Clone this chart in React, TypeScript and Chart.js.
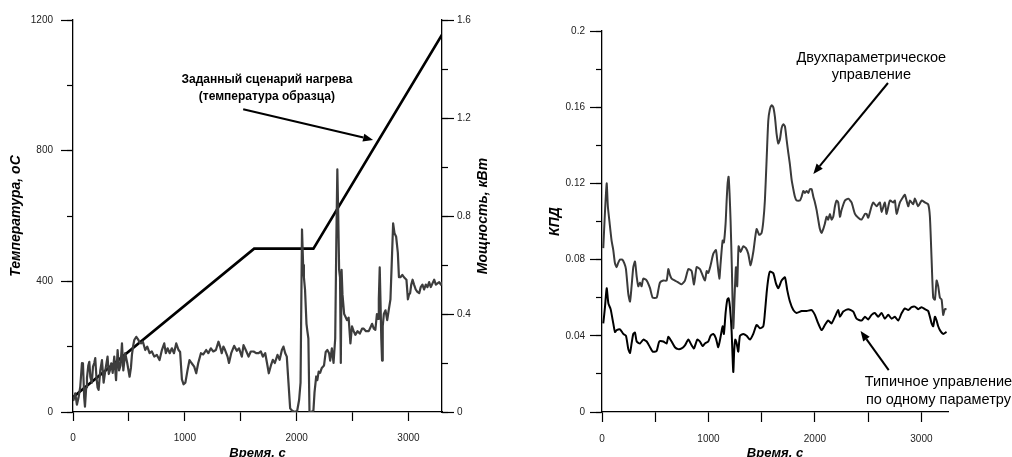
import React, { useEffect, useRef } from "react";
import { Chart, registerables } from "chart.js";

Chart.register(...registerables);

const FONT = '"Liberation Sans", Arial, Helvetica, sans-serif';

// Target heating program (sample temperature), °C
const programTime = [0, 1620, 2150, 3300];
const programTemp = [45, 500, 500, 1155];

// Heater power, kW
const powerTime = [
  0, 5, 20, 35, 50, 65, 80, 89, 100, 107, 118, 125, 137, 146, 155, 168, 179, 190, 199, 210,
  220, 229, 244, 259, 274, 289, 300, 309, 320, 330, 342, 355, 369, 385, 399, 412, 425, 438, 450, 467,
  485, 506, 518, 527, 538, 548, 566, 585, 596, 608, 625, 646, 664, 685, 705, 727, 750, 774, 795, 816,
  830, 846, 865, 884, 903, 923, 944, 958, 974, 989, 1005, 1024, 1042, 1060, 1084, 1102, 1120, 1144, 1165, 1191,
  1210, 1233, 1255, 1278, 1301, 1315, 1330, 1345, 1360, 1382, 1395, 1415, 1441, 1465, 1485, 1510, 1525, 1545, 1570, 1590,
  1615, 1638, 1660, 1680, 1698, 1719, 1735, 1751, 1770, 1787, 1805, 1829, 1848, 1868, 1882, 1898, 1912, 1927, 1942, 1960,
  1987, 2005, 2022, 2035, 2048, 2058, 2065, 2075, 2088, 2096, 2105, 2115, 2130, 2150, 2160, 2175, 2185, 2197, 2210, 2225,
  2245, 2260, 2275, 2290, 2300, 2315, 2330, 2345, 2355, 2364, 2372, 2380, 2388, 2395, 2402, 2410, 2425, 2436, 2450, 2465,
  2481, 2495, 2510, 2525, 2545, 2565, 2585, 2600, 2620, 2645, 2660, 2675, 2690, 2704, 2718, 2728, 2735, 2743, 2750, 2757,
  2764, 2770, 2780, 2795, 2810, 2825, 2839, 2850, 2863, 2875, 2890, 2905, 2915, 2928, 2945, 2960, 2982, 2995, 3005, 3015,
  3025, 3037, 3050, 3065, 3080, 3096, 3110, 3125, 3140, 3155, 3170, 3185, 3200, 3215, 3230, 3245, 3260, 3275, 3290, 3304,
];
const powerKw = [
  0.05, 0.049, 0.076, 0.03, 0.06, 0.103, 0.2, 0.199, 0.06, 0.022, 0.1, 0.139, 0.19, 0.205, 0.143, 0.12, 0.185, 0.2, 0.22, 0.139,
  0.1, 0.09, 0.17, 0.212, 0.12, 0.17, 0.2, 0.226, 0.155, 0.17, 0.199, 0.16, 0.226, 0.13, 0.253, 0.17, 0.19, 0.28, 0.17, 0.24,
  0.2, 0.144, 0.18, 0.233, 0.27, 0.294, 0.307, 0.294, 0.283, 0.28, 0.287, 0.253, 0.267, 0.24, 0.247, 0.226, 0.233, 0.212, 0.253, 0.28,
  0.24, 0.26, 0.24, 0.26, 0.24, 0.28, 0.253, 0.245, 0.133, 0.113, 0.12, 0.17, 0.212, 0.2, 0.185, 0.158, 0.2, 0.24, 0.235, 0.253,
  0.24, 0.26, 0.247, 0.253, 0.287, 0.267, 0.24, 0.267, 0.253, 0.226, 0.2, 0.24, 0.27, 0.25, 0.26, 0.226, 0.273, 0.253, 0.226, 0.247,
  0.247, 0.24, 0.24, 0.247, 0.226, 0.24, 0.2, 0.158, 0.19, 0.213, 0.2, 0.233, 0.213, 0.253, 0.267, 0.24, 0.226, 0.12, 0.015, 0.005,
  0.0, 0.005, 0.049, 0.12, 0.745, 0.6, 0.55, 0.5, 0.36, 0.33, 0.3, 0.0, 0.0, 0.005, 0.08, 0.145, 0.13, 0.165, 0.16, 0.18,
  0.19, 0.245, 0.253, 0.24, 0.21, 0.26, 0.2, 0.3, 0.7, 0.99, 0.8, 0.58, 0.55, 0.2, 0.58, 0.48, 0.4, 0.39, 0.375, 0.385,
  0.28, 0.35, 0.33, 0.315, 0.33, 0.32, 0.34, 0.34, 0.33, 0.33, 0.345, 0.36, 0.34, 0.335, 0.4, 0.38, 0.46, 0.59, 0.45, 0.3,
  0.21, 0.35, 0.4, 0.415, 0.375, 0.42, 0.46, 0.6, 0.77, 0.73, 0.715, 0.65, 0.55, 0.55, 0.56, 0.55, 0.54, 0.46, 0.48, 0.485,
  0.52, 0.54, 0.52, 0.5, 0.49, 0.485, 0.51, 0.52, 0.5, 0.52, 0.51, 0.53, 0.51, 0.525, 0.54, 0.52, 0.525, 0.53, 0.52, 0.53,
];

// Efficiency with two-parameter control
const twoParamTime = [
  12, 28, 44, 55, 70, 90, 106, 122, 138, 150, 169, 190, 210, 225, 247, 263, 278, 294, 310, 326,
  341, 357, 372, 388, 420, 451, 476, 513, 529, 545, 576, 607, 623, 638, 654, 685, 716, 748, 779, 811,
  842, 864, 889, 920, 936, 967, 983, 998, 1020, 1045, 1070, 1083, 1102, 1114, 1133, 1145, 1161, 1170, 1180, 1189,
  1198, 1208, 1220, 1233, 1245, 1258, 1270, 1283, 1302, 1327, 1352, 1374, 1396, 1421, 1452, 1477, 1499, 1515, 1530, 1546,
  1562, 1577, 1593, 1609, 1624, 1640, 1656, 1671, 1687, 1703, 1718, 1734, 1750, 1765, 1781, 1797, 1812, 1828, 1859, 1875,
  1891, 1906, 1922, 1938, 1953, 1969, 1985, 2000, 2016, 2031, 2047, 2063, 2078, 2094, 2110, 2125, 2141, 2156, 2172, 2188,
  2203, 2219, 2235, 2250, 2282, 2313, 2344, 2376, 2407, 2438, 2470, 2485, 2501, 2532, 2548, 2579, 2610, 2626, 2657, 2673,
  2704, 2735, 2751, 2767, 2798, 2830, 2845, 2877, 2892, 2923, 2939, 2970, 3002, 3033, 3064, 3080, 3096, 3111, 3127, 3143,
  3158, 3174, 3190, 3205, 3220, 3236,
];
const twoParamEff = [
  0.086, 0.105, 0.12, 0.108, 0.1, 0.09, 0.085, 0.078, 0.076, 0.078, 0.08, 0.08, 0.078, 0.075, 0.062, 0.058, 0.066, 0.076, 0.079, 0.071,
  0.066, 0.068, 0.066, 0.07, 0.069, 0.065, 0.06, 0.06, 0.064, 0.068, 0.069, 0.069, 0.075, 0.072, 0.07, 0.069, 0.068, 0.067, 0.069, 0.075,
  0.074, 0.067, 0.076, 0.075, 0.073, 0.069, 0.074, 0.073, 0.077, 0.083, 0.085, 0.079, 0.07, 0.078, 0.09, 0.089, 0.099, 0.11, 0.12, 0.1235,
  0.115, 0.1, 0.075, 0.044, 0.06, 0.076, 0.066, 0.087, 0.084, 0.087, 0.086, 0.083, 0.077, 0.084, 0.096, 0.093, 0.094, 0.1, 0.111, 0.132,
  0.153, 0.159, 0.161, 0.16, 0.155, 0.146, 0.141, 0.143, 0.149, 0.151, 0.15, 0.143, 0.136, 0.13, 0.122, 0.117, 0.113, 0.111, 0.111, 0.113,
  0.116, 0.115, 0.116, 0.115, 0.117, 0.117, 0.113, 0.11, 0.106, 0.101, 0.096, 0.094, 0.096, 0.099, 0.1025, 0.101, 0.104, 0.101, 0.1025, 0.108,
  0.111, 0.11, 0.1025, 0.106, 0.111, 0.112, 0.11, 0.104, 0.102, 0.101, 0.104, 0.104, 0.102, 0.108, 0.11, 0.108, 0.11, 0.105, 0.11, 0.104,
  0.111, 0.11, 0.111, 0.104, 0.11, 0.113, 0.114, 0.108, 0.111, 0.109, 0.112, 0.108, 0.111, 0.11, 0.109, 0.1025, 0.08, 0.06, 0.059, 0.069,
  0.066, 0.06, 0.059, 0.051, 0.054, 0.054,
];

// Efficiency with conventional single-parameter control
const oneParamTime = [
  12, 28, 44, 60, 81, 106, 122, 138, 169, 200, 225, 247, 263, 278, 294, 310, 326, 357, 388, 420,
  451, 476, 513, 538, 576, 607, 623, 654, 685, 716, 748, 779, 811, 842, 864, 895, 920, 945, 967, 998,
  1020, 1045, 1070, 1092, 1114, 1133, 1145, 1161, 1177, 1189, 1202, 1217, 1233, 1242, 1252, 1265, 1280, 1296, 1327, 1358,
  1390, 1421, 1452, 1483, 1515, 1530, 1546, 1562, 1577, 1609, 1634, 1656, 1687, 1718, 1740, 1765, 1797, 1828, 1875, 1922,
  1969, 2000, 2031, 2063, 2094, 2125, 2156, 2188, 2219, 2235, 2266, 2313, 2360, 2391, 2438, 2470, 2501, 2532, 2563, 2594,
  2626, 2657, 2689, 2720, 2751, 2783, 2814, 2845, 2877, 2908, 2939, 2970, 3002, 3033, 3064, 3096, 3111, 3127, 3143, 3158,
  3174, 3205, 3236,
];
const oneParamEff = [
  0.0465, 0.055, 0.065, 0.057, 0.054, 0.0465, 0.042, 0.043, 0.0434, 0.041, 0.04, 0.033, 0.031, 0.036, 0.041, 0.0417, 0.037, 0.036, 0.038, 0.037,
  0.034, 0.0317, 0.032, 0.037, 0.037, 0.036, 0.0395, 0.037, 0.034, 0.033, 0.0334, 0.035, 0.038, 0.035, 0.0334, 0.038, 0.037, 0.0346, 0.036, 0.037,
  0.04, 0.041, 0.0387, 0.034, 0.0395, 0.045, 0.041, 0.052, 0.059, 0.0597, 0.055, 0.043, 0.021, 0.0325, 0.038, 0.036, 0.0317, 0.04, 0.041, 0.04,
  0.038, 0.041, 0.0457, 0.044, 0.045, 0.052, 0.0623, 0.07, 0.0737, 0.0728, 0.0675, 0.065, 0.069, 0.0707, 0.064, 0.058, 0.0535, 0.052, 0.053, 0.053,
  0.0535, 0.051, 0.0465, 0.043, 0.0457, 0.048, 0.0465, 0.05, 0.0535, 0.05, 0.0527, 0.054, 0.0527, 0.049, 0.048, 0.05, 0.0486, 0.051, 0.052, 0.05,
  0.052, 0.049, 0.051, 0.049, 0.05, 0.048, 0.0518, 0.0544, 0.0535, 0.055, 0.0553, 0.054, 0.055, 0.054, 0.053, 0.0465, 0.045, 0.05, 0.048, 0.045,
  0.043, 0.041, 0.042,
];

// Axis ranges and tick labels
const timeTickLabels = [0, 1000, 2000, 3000];
const timeTickStep = 500;
const leftTimeMax = 3300;
const rightTimeMax = 3250;
const tempTickLabels = [0, 400, 800, 1200];
const tempMinorStep = 200;
const powerTickLabels = [0, 0.4, 0.8, 1.2, 1.6];
const powerMinorStep = 0.2;
const effTickLabels = [0, 0.04, 0.08, 0.12, 0.16, 0.2];
const effMinorStep = 0.02;

const toPoints = (xs: number[], ys: number[]) => xs.map((x, i) => ({ x, y: ys[i] }));

// Tick positions from min up to max in fixed steps (rounded to avoid float drift)
function stepTicks(min: number, max: number, step: number) {
  const out: { value: number }[] = [];
  const n = Math.floor((max - min) / step + 1e-9);
  for (let i = 0; i <= n; i++) out.push({ value: Number((min + i * step).toFixed(6)) });
  return out;
}

const tickFont = { family: FONT, size: 10 };
const tickColor = "#222";
const axisColor = "#000";

function timeAxis(max: number, tickLength: number) {
  return {
    type: "linear",
    position: "bottom",
    min: 0,
    max,
    afterBuildTicks: (s: any) => {
      s.ticks = stepTicks(0, max, timeTickStep);
    },
    ticks: {
      autoSkip: false,
      maxRotation: 0,
      padding: 11,
      font: tickFont,
      color: tickColor,
      callback: (v: number) => (timeTickLabels.includes(v) ? String(v) : ""),
    },
    grid: { drawOnChartArea: false, tickLength, tickColor: axisColor, tickWidth: 1.2 },
    border: { color: axisColor, width: 1.3 },
    afterFit: (s: any) => {
      s.height = 45;
    },
  };
}

function valueAxis(
  position: "left" | "right",
  labels: number[],
  width: number,
  padding: number,
  digits: number
) {
  const min = labels[0];
  const max = labels[labels.length - 1];
  return {
    type: "linear",
    position,
    weight: 1,
    min,
    max,
    afterBuildTicks: (s: any) => {
      s.ticks = labels.map((value) => ({ value }));
    },
    ticks: {
      autoSkip: false,
      padding,
      font: tickFont,
      color: tickColor,
      callback: (v: number) => String(Number(v.toFixed(digits))),
    },
    grid: { drawOnChartArea: false, tickLength: 12, tickColor: axisColor, tickWidth: 1.2 },
    border: { color: axisColor, width: 1.3 },
    afterFit: (s: any) => {
      s.width = width;
    },
  };
}

function minorAxis(position: "left" | "right", labels: number[], step: number) {
  const min = labels[0];
  const max = labels[labels.length - 1];
  return {
    type: "linear",
    position,
    weight: 0,
    min,
    max,
    afterBuildTicks: (s: any) => {
      s.ticks = stepTicks(min, max, step);
    },
    ticks: { display: false, autoSkip: false },
    grid: { drawOnChartArea: false, tickLength: 6, tickColor: axisColor, tickWidth: 1.2 },
    border: { display: false },
    afterFit: (s: any) => {
      s.width = 0;
    },
  };
}

function drawArrow(ctx: CanvasRenderingContext2D, x1: number, y1: number, x2: number, y2: number) {
  const head = 10;
  const half = 4;
  const a = Math.atan2(y2 - y1, x2 - x1);
  const bx = x2 - head * Math.cos(a);
  const by = y2 - head * Math.sin(a);
  ctx.save();
  ctx.strokeStyle = "#000";
  ctx.fillStyle = "#000";
  ctx.lineWidth = 2;
  ctx.beginPath();
  ctx.moveTo(x1, y1);
  ctx.lineTo(bx, by);
  ctx.stroke();
  ctx.beginPath();
  ctx.moveTo(x2, y2);
  ctx.lineTo(bx + half * Math.sin(a), by - half * Math.cos(a));
  ctx.lineTo(bx - half * Math.sin(a), by + half * Math.cos(a));
  ctx.closePath();
  ctx.fill();
  ctx.restore();
}

function drawText(
  ctx: CanvasRenderingContext2D,
  text: string,
  x: number,
  y: number,
  font: string,
  rotate = false,
  baseline: CanvasTextBaseline = "middle"
) {
  ctx.save();
  ctx.fillStyle = "#000";
  ctx.font = font;
  ctx.textAlign = "center";
  ctx.textBaseline = baseline;
  ctx.translate(x, y);
  if (rotate) ctx.rotate(-Math.PI / 2);
  ctx.fillText(text, 0, 0);
  ctx.restore();
}

const titleFont = `italic bold 14px ${FONT}`;
const xTitleFont = `italic bold 13px ${FONT}`;

const leftOverlay = {
  id: "leftOverlay",
  afterDraw(chart: any) {
    const { ctx, chartArea, scales } = chart;
    const x = scales.x;
    const yT = scales.yTemp;
    const cy = (chartArea.top + chartArea.bottom) / 2;
    const cx = (chartArea.left + chartArea.right) / 2;
    drawText(ctx, "Температура, оС", chartArea.left - 57, cy, titleFont, true);
    drawText(ctx, "Мощность, кВт", chartArea.right + 41, cy, titleFont, true);
    drawText(ctx, "Время, с", cx, chart.height, xTitleFont, false, "alphabetic");
    const bold = `bold 12px ${FONT}`;
    drawText(ctx, "Заданный сценарий нагрева", x.getPixelForValue(1734), yT.getPixelForValue(1016), bold);
    drawText(ctx, "(температура образца)", x.getPixelForValue(1734), yT.getPixelForValue(964), bold);
    drawArrow(
      ctx,
      x.getPixelForValue(1522),
      yT.getPixelForValue(927),
      x.getPixelForValue(2684),
      yT.getPixelForValue(833)
    );
  },
};

const rightOverlay = {
  id: "rightOverlay",
  afterDraw(chart: any) {
    const { ctx, chartArea, scales } = chart;
    const x = scales.x;
    const y = scales.yEff;
    const cy = (chartArea.top + chartArea.bottom) / 2;
    const cx = (chartArea.left + chartArea.right) / 2;
    drawText(ctx, "КПД", chartArea.left - 47, cy, titleFont, true);
    drawText(ctx, "Время, с", cx, chart.height, xTitleFont, false, "alphabetic");
    const normal = `14.5px ${FONT}`;
    drawText(ctx, "Двухпараметрическое", x.getPixelForValue(2530), y.getPixelForValue(0.1858), normal);
    drawText(ctx, "управление", x.getPixelForValue(2530), y.getPixelForValue(0.1769), normal);
    drawArrow(ctx, x.getPixelForValue(2686), y.getPixelForValue(0.1727), x.getPixelForValue(1985), y.getPixelForValue(0.125));
    drawText(ctx, "Типичное управление", x.getPixelForValue(3160), y.getPixelForValue(0.0159), normal);
    drawText(ctx, "по одному параметру", x.getPixelForValue(3160), y.getPixelForValue(0.0063), normal);
    drawArrow(ctx, x.getPixelForValue(2693), y.getPixelForValue(0.022), x.getPixelForValue(2429), y.getPixelForValue(0.0425));
  },
};

function useChart(ref: React.RefObject<HTMLCanvasElement | null>, makeConfig: () => any) {
  useEffect(() => {
    if (!ref.current) return;
    const chart = new Chart(ref.current, makeConfig());
    return () => chart.destroy();
  }, []);
}

const baseOptions = {
  responsive: false,
  animation: false,
  events: [],
  plugins: { legend: { display: false }, tooltip: { enabled: false } },
};

function HeatingChart() {
  const ref = useRef<HTMLCanvasElement | null>(null);
  useChart(ref, () => ({
    type: "line",
    data: {
      datasets: [
        {
          label: "Мощность",
          data: toPoints(powerTime, powerKw),
          yAxisID: "yPower",
          borderColor: "#3d3d3d",
          borderWidth: 2.2,
          pointRadius: 0,
          tension: 0,
          borderJoinStyle: "round",
        },
        {
          label: "Заданный сценарий нагрева",
          data: toPoints(programTime, programTemp),
          yAxisID: "yTemp",
          borderColor: "#000",
          borderWidth: 2.6,
          pointRadius: 0,
          tension: 0,
        },
      ],
    },
    options: {
      ...baseOptions,
      layout: { padding: { top: 20, left: 0, right: 0, bottom: 0 } },
      scales: {
        x: timeAxis(leftTimeMax, 9),
        yTemp: valueAxis("left", tempTickLabels, 73, 8, 0),
        yTempMinor: minorAxis("left", tempTickLabels, tempMinorStep),
        yPower: valueAxis("right", powerTickLabels, 58, 3, 1),
        yPowerMinor: minorAxis("right", powerTickLabels, powerMinorStep),
      },
    },
    plugins: [leftOverlay],
  }));
  return (
    <canvas ref={ref} width={500} height={457} style={{ position: "absolute", left: 0, top: 0 }} />
  );
}

function EfficiencyChart() {
  const ref = useRef<HTMLCanvasElement | null>(null);
  useChart(ref, () => ({
    type: "line",
    data: {
      datasets: [
        {
          label: "Двухпараметрическое управление",
          data: toPoints(twoParamTime, twoParamEff),
          yAxisID: "yEff",
          borderColor: "#3a3a3a",
          borderWidth: 2,
          pointRadius: 0,
          tension: 0.2,
        },
        {
          label: "Типичное управление по одному параметру",
          data: toPoints(oneParamTime, oneParamEff),
          yAxisID: "yEff",
          borderColor: "#000",
          borderWidth: 2,
          pointRadius: 0,
          tension: 0.2,
        },
      ],
    },
    options: {
      ...baseOptions,
      layout: { padding: { top: 31, left: 0, right: 64, bottom: 0 } },
      scales: {
        x: timeAxis(rightTimeMax, 10),
        yEff: valueAxis("left", effTickLabels, 102, 5, 2),
        yEffMinor: minorAxis("left", effTickLabels, effMinorStep),
      },
    },
    plugins: [rightOverlay],
  }));
  return (
    <canvas ref={ref} width={512} height={457} style={{ position: "absolute", left: 500, top: 0 }} />
  );
}

export default function App() {
  return (
    <div
      style={{
        position: "absolute",
        left: 0,
        top: 0,
        width: 1012,
        height: 457,
        background: "#fff",
        overflow: "hidden",
      }}
    >
      <HeatingChart />
      <EfficiencyChart />
    </div>
  );
}
